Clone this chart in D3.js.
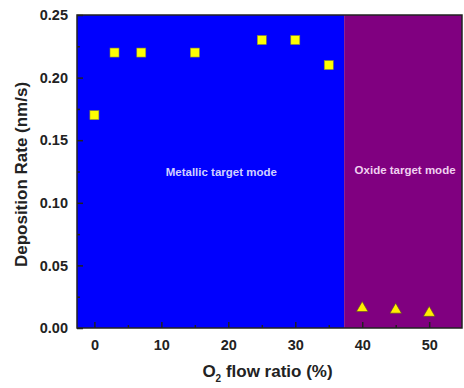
<!DOCTYPE html>
<html>
<head>
<meta charset="utf-8">
<script src="https://cdn.jsdelivr.net/npm/d3@7"></script>
<style>
  body { margin: 0; background: #fff; }
  svg { display: block; font-family: Arial, "Liberation Sans", sans-serif; }
</style>
</head>
<body>
<svg id="chart" width="464" height="388"></svg>
<script>
// metallic mode points (squares)
const metalFlow = [0, 3, 7, 15, 25, 30, 35];
const metalRate = [0.17, 0.22, 0.22, 0.22, 0.23, 0.23, 0.21];
// oxide mode points (triangles)
const oxideFlow = [40, 45, 50];
const oxideRate = [0.0158, 0.0145, 0.012];

const xTicks = [0, 10, 20, 30, 40, 50];
const yTicks = [0.00, 0.05, 0.10, 0.15, 0.20, 0.25];
const modeBoundary = 37.3;

const margin = { top: 15, right: 2, bottom: 60, left: 77 };
const width = 464 - margin.left - margin.right;
const height = 388 - margin.top - margin.bottom;

const svg = d3.select('#chart');
const g = svg.append('g').attr('transform', `translate(${margin.left},${margin.top})`);

const x = d3.scaleLinear().domain([-2.6, 54.9]).range([0, width]);
const y = d3.scaleLinear().domain([0, 0.25]).range([height, 0]);

// background regions
g.append('rect')
  .attr('x', 0).attr('y', 0)
  .attr('width', x(modeBoundary)).attr('height', height)
  .attr('fill', '#0000fe');
g.append('rect')
  .attr('x', x(modeBoundary)).attr('y', 0)
  .attr('width', width - x(modeBoundary)).attr('height', height)
  .attr('fill', '#800080');

// ticks (inward, with minor ones)
const xAxis = d3.axisBottom(x).tickValues(xTicks).tickSize(-6).tickPadding(12).tickFormat(d3.format('d'));
const xMinor = d3.axisBottom(x).tickValues([5, 15, 25, 35, 45]).tickSize(-3).tickFormat('');
const yAxis = d3.axisLeft(y).tickValues(yTicks).tickSize(-6).tickPadding(9).tickFormat(d3.format('.2f'));
const yMinor = d3.axisLeft(y).tickValues([0.025, 0.075, 0.125, 0.175, 0.225]).tickSize(-3).tickFormat('');

function styleAxis(sel) {
  sel.select('.domain').remove();
  sel.selectAll('line').attr('stroke', '#222').attr('stroke-width', 1.5);
  sel.selectAll('text')
    .attr('fill', '#222')
    .attr('font-size', 14.5)
    .attr('font-weight', 'bold');
}

g.append('g').attr('transform', `translate(0,${height})`).call(xAxis).call(styleAxis);
g.append('g').attr('transform', `translate(0,${height})`).call(xMinor).call(styleAxis);
g.append('g').call(yAxis).call(styleAxis);
g.append('g').call(yMinor).call(styleAxis);

// frame
g.append('rect')
  .attr('width', width).attr('height', height)
  .attr('fill', 'none').attr('stroke', '#222').attr('stroke-width', 1.5);

// squares
const sq = 9;
g.selectAll('.sq')
  .data(metalFlow.map((f, i) => ({ f, r: metalRate[i] })))
  .enter().append('rect')
  .attr('class', 'sq')
  .attr('x', d => x(d.f) - sq / 2)
  .attr('y', d => y(d.r) - sq / 2)
  .attr('width', sq).attr('height', sq)
  .attr('fill', '#ffff00')
  .attr('stroke', '#8a8a30').attr('stroke-width', 0.6);

// triangles
const tri = d3.symbol().type(d3.symbolTriangle).size(58);
g.selectAll('.tri')
  .data(oxideFlow.map((f, i) => ({ f, r: oxideRate[i] })))
  .enter().append('path')
  .attr('class', 'tri')
  .attr('d', tri)
  .attr('transform', d => `translate(${x(d.f)},${y(d.r)})`)
  .attr('fill', '#ffee00')
  .attr('stroke', '#5a4a20').attr('stroke-width', 0.6);

// mode labels
g.append('text')
  .attr('x', x(modeBoundary / 2 + 0.3)).attr('y', y(0.125) + 4)
  .attr('text-anchor', 'middle')
  .attr('font-size', 11.5).attr('font-weight', 'bold')
  .attr('fill', '#d0d0ff')
  .text('Metallic target mode');
g.append('text')
  .attr('x', (x(modeBoundary) + width) / 2 + 2).attr('y', y(0.126) + 4)
  .attr('text-anchor', 'middle')
  .attr('font-size', 11.5).attr('font-weight', 'bold')
  .attr('fill', '#f0d0f0')
  .text('Oxide target mode');

// axis titles
svg.append('text')
  .attr('transform', `translate(27,${margin.top + height / 2 + 3}) rotate(-90)`)
  .attr('text-anchor', 'middle')
  .attr('font-size', 17).attr('font-weight', 'bold')
  .attr('fill', '#222')
  .text('Deposition Rate (nm/s)');

const xt = svg.append('text')
  .attr('x', margin.left + width / 2 - 2).attr('y', 377)
  .attr('text-anchor', 'middle')
  .attr('font-size', 17).attr('font-weight', 'bold')
  .attr('fill', '#222');
xt.append('tspan').text('O');
xt.append('tspan').attr('font-size', 10).attr('dy', 5).text('2');
xt.append('tspan').attr('dy', -5).text(' flow ratio (%)');
</script>
</body>
</html>
